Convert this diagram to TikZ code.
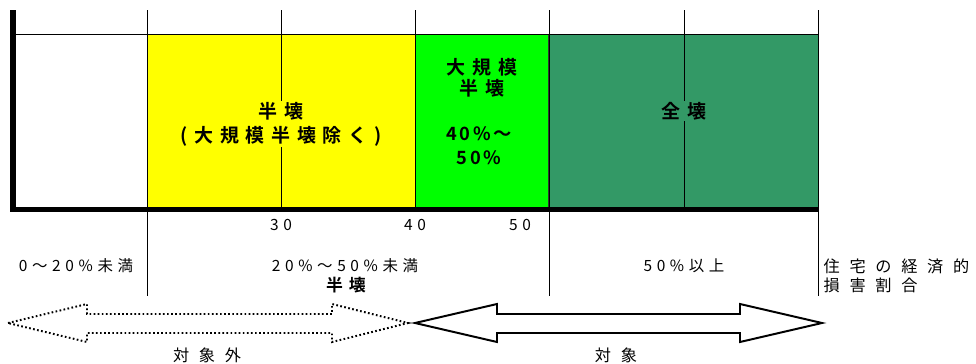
\documentclass[tikz,border=0pt]{standalone}
\usepackage{fontspec}
\usepackage{tikz}
\newfontfamily\jpfont[LetterSpace=30]{Noto Sans CJK JP}
\newfontfamily\jpwide[LetterSpace=60]{Noto Sans CJK JP}
\newfontfamily\jpbold[LetterSpace=35]{Noto Sans CJK JP Bold}
\newfontfamily\jpboldnum[LetterSpace=15]{Noto Sans CJK JP Bold}

\definecolor{hanyellow}{HTML}{FFFF00}
\definecolor{daigreen}{HTML}{00FF00}
\definecolor{zengreen}{HTML}{339966}

\tikzset{
  gridline/.style={line width=0.7pt},
  baseline/.style={line width=3.6pt, line join=miter},
  lbl/.style={font=\jpfont\fontsize{11}{14}\selectfont, inner sep=1pt},
  widelbl/.style={font=\jpwide\fontsize{11.5}{13.5}\selectfont, inner sep=1pt, align=left},
  boldlbl/.style={font=\jpbold\fontsize{13.5}{17}\selectfont, inner sep=1pt, align=center},
  solidarrow/.style={draw, line width=1.4pt, line join=miter},
  dotarrow/.style={draw, line width=1.4pt, dash pattern=on 1.2pt off 1.7pt, line join=miter},
}

\begin{document}
\begin{tikzpicture}[x=0.025cm, y=-0.025cm]
    \useasboundingbox (0,0) rectangle (976,363);

    % bands
    \fill[hanyellow] (147,34) rectangle (415,209);
    \fill[zengreen] (549,34) rectangle (818,209);
    \draw[gridline, fill=daigreen, draw=black!80] (415.5,34) rectangle (548.5,207);

    % grid
    \draw[gridline] (13,34) -- (818,34);
    \draw[gridline] (147,10) -- (147,296);
    \draw[gridline] (281,10) -- (281,209);
    \draw[gridline] (415,10) -- (415,209);
    \draw[gridline] (549,10) -- (549,296);
    \draw[gridline] (684,10) -- (684,209);
    \draw[gridline] (818,10) -- (818,296);
    \draw[baseline] (13,10) -- (13,209.5) -- (818,209.5);

    % labels inside bands
    \node[boldlbl, fill=hanyellow] at (281,124) (hanTxt) {半壊\\(大規模半壊除く)};
    \node[boldlbl, fill=daigreen, font=\jpbold\fontsize{13.5}{15}\selectfont] at (482,78) (daiTxt) {大規模\\半壊};
    \node[boldlbl, fill=daigreen, font=\jpboldnum\fontsize{13}{17}\selectfont] at (479,146) (pctTxt) {40\%～\\50\%};
    \node[boldlbl, fill=zengreen] at (684,111) (zenTxt) {全壊};

    % scale
    \node[lbl] at (281,225) (tick30) {30};
    \node[lbl] at (415,225) (tick40) {40};
    \node[lbl] at (520,225) (tick50) {50};
    \node[lbl] at (76,266) (rangeA) {0～20\%未満};
    \node[lbl] at (345,266) (rangeB) {20\%～50\%未満};
    \node[boldlbl, font=\jpbold\fontsize{12}{14}\selectfont] at (346,285) (hanLbl) {半壊};
    \node[lbl] at (684,266) (rangeC) {50\%以上};
    \node[widelbl, anchor=west] at (822,276) (axisLbl) {住宅の経済的\\損害割合};

    % arrows
    \draw[dotarrow] (8,323) -- (87,304) -- (87,314) -- (332,314) -- (332,304) -- (408,323)
        -- (332,342) -- (332,333) -- (87,333) -- (87,342) -- cycle;
    \draw[solidarrow] (415,323) -- (497,304) -- (497,314) -- (740,314) -- (740,304) -- (822,323)
        -- (740,342) -- (740,333) -- (497,333) -- (497,342) -- cycle;
    \node[widelbl] at (207,355) (outLbl) {対象外};
    \node[widelbl] at (616,355) (inLbl) {対象};
\end{tikzpicture}
\end{document}
